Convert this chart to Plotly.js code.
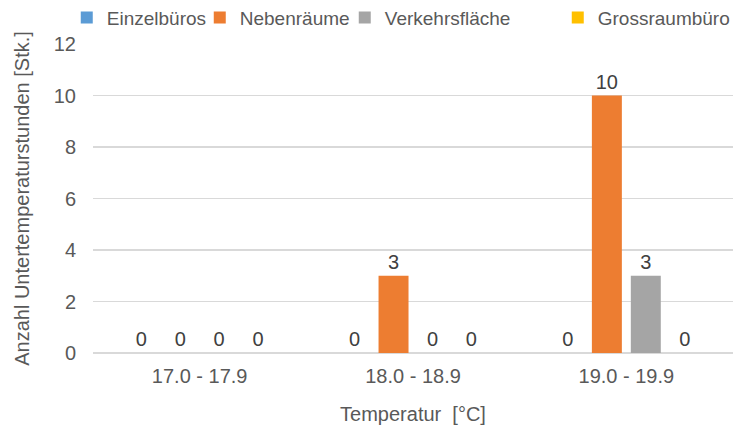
<!DOCTYPE html>
<html><head><meta charset="utf-8">
<script src="https://cdn.plot.ly/plotly-3.0.1.min.js"></script>
<style>body{margin:0;background:#fff}#c{width:747px;height:432px}</style>
</head><body><div id="c"></div>
<script>
const categories = ["17.0 - 17.9", "18.0 - 18.9", "19.0 - 19.9"];
const seriesNames = ["Einzelbüros", "Nebenräume", "Verkehrsfläche", "Grossraumbüro"];
const einzelbueros = [0, 0, 0];
const nebenraeume = [0, 3, 10];
const verkehrsflaeche = [0, 0, 3];
const grossraumbuero = [0, 0, 0];
const colors = ["#5B9BD5", "#ED7D31", "#A5A5A5", "#FFC000"];
const legendWidths = [88, 100, 168, 0];
const values = [einzelbueros, nebenraeume, verkehrsflaeche, grossraumbuero];

const FONT = "Liberation Sans, Arial, sans-serif";
const traces = values.map((v, i) => ({
  type: "bar", name: seriesNames[i], x: categories, y: v,
  marker: {color: colors[i]},
  text: v.map(String), textposition: "outside",
  textfont: {family: FONT, size: 20, color: "#404040"},
  legendwidth: legendWidths[i],
  cliponaxis: false, hoverinfo: "none"
}));

const layout = {
  width: 747, height: 432,
  margin: {l: 93, r: 14, t: 44, b: 79, autoexpand: false},
  paper_bgcolor: "#fff", plot_bgcolor: "#fff",
  font: {family: FONT, color: "#595959", size: 20},
  barmode: "group", bargap: 0.27, bargroupgap: 0.23,
  showlegend: true,
  legend: {orientation: "h", x: -0.041, xanchor: "left", y: 1.085, yanchor: "middle",
    font: {size: 19, color: "#595959"}, itemwidth: 30, traceorder: "normal", tracegroupgap: 0},
  xaxis: {type: "category", showgrid: false, zeroline: false, showline: false,
    ticks: "", tickfont: {size: 20, color: "#595959"}, ticklabelstandoff: 9,
    title: {text: "Temperatur  [°C]", font: {size: 20, color: "#595959"}, standoff: 20}},
  yaxis: {range: [0, 12], dtick: 2, showgrid: true, gridcolor: "#D9D9D9", gridwidth: 1.3,
    zeroline: true, zerolinecolor: "#D9D9D9", zerolinewidth: 1.3, showline: false, ticks: "",
    tickfont: {size: 20, color: "#595959"}, ticklabelstandoff: 16,
    title: {text: "Anzahl Untertemperaturstunden [Stk.]", font: {size: 20, color: "#595959"}, standoff: 18}}
};
Plotly.newPlot("c", traces, layout, {displayModeBar: false, staticPlot: true});
</script></body></html>
